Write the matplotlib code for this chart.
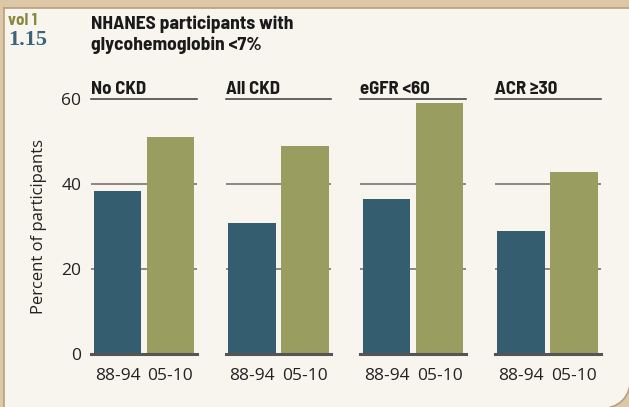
import matplotlib
matplotlib.use('Agg')
from matplotlib import pyplot as plt
from matplotlib.patches import FancyBboxPatch, Rectangle

panels = ['No CKD', 'All CKD', 'eGFR <60', 'ACR \u226530']
periods = ['88-94', '05-10']
vals_8894 = [38.4, 30.8, 36.5, 28.9]
vals_0510 = [51.1, 48.9, 59.1, 42.8]
yticks = [0, 20, 40, 60]

dark = '#345e6f'
green = '#9a9d60'
cream = '#f8f4ee'
tan = '#dcc7a6'
edge = '#b89f7c'

reg = ['Open Sans', 'DejaVu Sans']
cond = dict(family=['Barlow Semi Condensed', 'DejaVu Sans'], fontweight='bold')

W, H = 629, 407
fig = plt.figure(figsize=(W / 100, H / 100), dpi=100)
fig.patch.set_facecolor(tan)

# cream card, only the lower-right corner is visible as rounded
r = 34
card = FancyBboxPatch((-200, -2), W + 2 + 200, H + 200, boxstyle='round,pad=0,rounding_size=%d' % r,
                      transform=None, facecolor=cream, edgecolor=edge, lw=1.2, zorder=-3)
fig.patches.append(card)
fig.patches.append(Rectangle((0, 0), 3.5, H, transform=None, facecolor=tan, edgecolor='none', zorder=-2))
fig.patches.append(Rectangle((0, H - 7.5), W, 7.5, transform=None, facecolor=tan, edgecolor='none', zorder=-2))
fig.lines.append(plt.Line2D([4, 4], [0, H - 8], transform=None, color=edge, lw=1.2, zorder=-1))
fig.lines.append(plt.Line2D([4, W], [H - 8, H - 8], transform=None, color=edge, lw=1.2, zorder=-1))

left0, step, pw = 91, 134.5, 106
bottom = (H - 354) / H
height = 255 / H

for i, name in enumerate(panels):
    ax = fig.add_axes([(left0 + step * i) / W, bottom, pw / W, height])
    ax.set_facecolor('none')
    ax.bar([0, 1], [vals_8894[i], vals_0510[i]], width=0.9, color=[dark, green], zorder=2)
    ax.set_xlim(-0.5, 1.5)
    ax.set_ylim(0, 60)
    for y in [20, 40]:
        ax.axhline(y, color='#8c8782', lw=1.4, zorder=1)
    ax.axhline(60, color='#3a3a3a', lw=1.1, zorder=1, clip_on=False)
    ax.axhline(0, color='#555555', lw=2.2, zorder=3, clip_on=False)
    for s in ax.spines.values():
        s.set_visible(False)
    ax.set_xticks([0, 1])
    ax.set_xticklabels(periods, family=reg, fontsize=12.5, color='#222222')
    ax.tick_params(axis='x', length=0, pad=10)
    ax.set_yticks(yticks)
    if i == 0:
        ax.set_yticklabels([str(t) for t in yticks], family=reg, fontsize=12.5, color='#222222')
        ax.tick_params(axis='y', length=0, pad=7)
        ax.set_ylabel('Percent of participants', family=reg, fontsize=12, color='#222222', labelpad=10)
    else:
        ax.set_yticklabels([])
        ax.tick_params(axis='y', length=0)
    ax.text(0, 1.018, name, transform=ax.transAxes, ha='left', va='baseline',
            fontsize=13.5, color='#1a1a1a', **cond)

fig.text(91 / W, 1 - 29 / H, 'NHANES participants with', ha='left', va='baseline',
         fontsize=14, color='#1a1a1a', **cond)
fig.text(91 / W, 1 - 50 / H, 'glycohemoglobin <7%', ha='left', va='baseline',
         fontsize=14, color='#1a1a1a', **cond)
fig.text(8 / W, 1 - 25 / H, 'vol 1', ha='left', va='baseline', fontsize=12, color='#86893a', **cond)
fig.text(8 / W, 1 - 45 / H, '1.15', ha='left', va='baseline', family=['Liberation Serif', 'DejaVu Serif'],
         fontweight='bold', fontsize=16, color='#3b6478')

plt.savefig('out.png', dpi=100, facecolor=fig.get_facecolor())
